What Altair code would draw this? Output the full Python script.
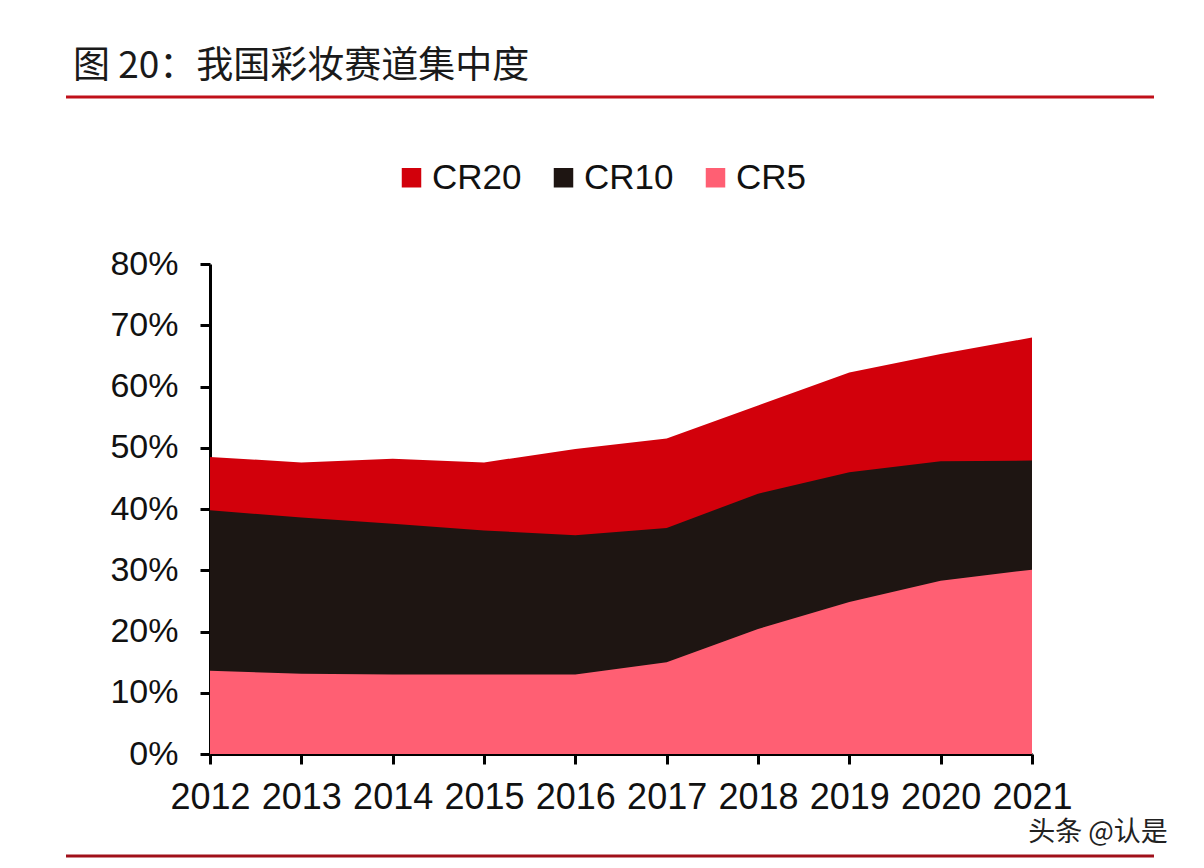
import altair as alt
import pandas as pd

years = [2012, 2013, 2014, 2015, 2016, 2017, 2018, 2019, 2020, 2021]
cr20 = [48.5, 47.6, 48.2, 47.6, 49.8, 51.5, 56.9, 62.3, 65.3, 68.0]
cr10 = [39.8, 38.6, 37.6, 36.5, 35.7, 36.9, 42.5, 46.0, 47.8, 47.9]
cr5 = [13.6, 13.1, 13.0, 13.0, 13.0, 15.0, 20.4, 24.8, 28.3, 30.1]
series_names = ["CR20", "CR10", "CR5"]
series_colors = ["#D2000B", "#1E1512", "#FF5F73"]
title_text = "图 20：我国彩妆赛道集中度"
watermark = "头条 @认是"

rows = []
for name, vals in zip(series_names, [cr20, cr10, cr5]):
    for y, v in zip(years, vals):
        rows.append({"year": y, "series": name, "value": v / 100})
df = pd.DataFrame(rows)

W, H = 822, 490

base = alt.Chart(df).mark_area(opacity=1).encode(
    x=alt.X("year:Q", scale=alt.Scale(domain=[2012, 2021], nice=False, zero=False),
            axis=alt.Axis(values=years, format="d", title=None, grid=False,
                          labelFontSize=36, labelPadding=16, tickSize=10,
                          labelFlush=False, labelOverlap=False)),
    y=alt.Y("value:Q", stack=None, scale=alt.Scale(domain=[0, 0.8], nice=False),
            axis=alt.Axis(values=[0, 0.1, 0.2, 0.3, 0.4, 0.5, 0.6, 0.7, 0.8], format=".0%",
                          title=None, grid=False, labelFontSize=34, labelPadding=22,
                          tickSize=10)),
    color=alt.Color("series:N", scale=alt.Scale(domain=series_names, range=series_colors),
                    legend=alt.Legend(title=None, orient="none", direction="horizontal",
                                      legendX=184, legendY=-104, symbolType="square",
                                      symbolSize=380, symbolStrokeWidth=0, labelFontSize=35,
                                      labelOffset=3, columnPadding=24, labelColor="#111111",
                                      labelFont="Liberation Sans")),
)

areas = alt.layer(*[base.transform_filter(alt.datum.series == s) for s in series_names])

title = alt.Chart(pd.DataFrame({"t": [title_text]})).mark_text(
    align="left", baseline="middle", fontSize=37, font="Noto Sans CJK SC", color="#1a1a1a"
).encode(x=alt.value(-137), y=alt.value(-197), text="t:N")

wm = alt.Chart(pd.DataFrame({"t": [watermark]})).mark_text(
    align="center", baseline="middle", fontSize=27, font="Noto Sans CJK SC", color="#222222"
).encode(x=alt.value(888), y=alt.value(569), text="t:N")

top_rule = alt.Chart(pd.DataFrame({"a": [0]})).mark_rule(color="#C0101A", strokeWidth=3).encode(
    x=alt.value(-144), x2=alt.value(944), y=alt.value(-167))
bottom_rule = alt.Chart(pd.DataFrame({"a": [0]})).mark_rule(color="#A0101A", strokeWidth=3).encode(
    x=alt.value(-144), x2=alt.value(944), y=alt.value(592))

chart = alt.layer(areas, title, wm, top_rule, bottom_rule).properties(
    width=W, height=H,
    autosize=alt.AutoSizeParams(type="none"),
    padding={"left": 202, "top": 256, "right": 164, "bottom": 104},
    background="white",
).configure_view(stroke=None).configure_axis(
    domainColor="#000000", domainWidth=3, tickColor="#000000", tickWidth=3,
    labelColor="#111111", labelFont="Liberation Sans",
)

chart.save("out.html", embed_options={"renderer": "svg", "actions": False})
